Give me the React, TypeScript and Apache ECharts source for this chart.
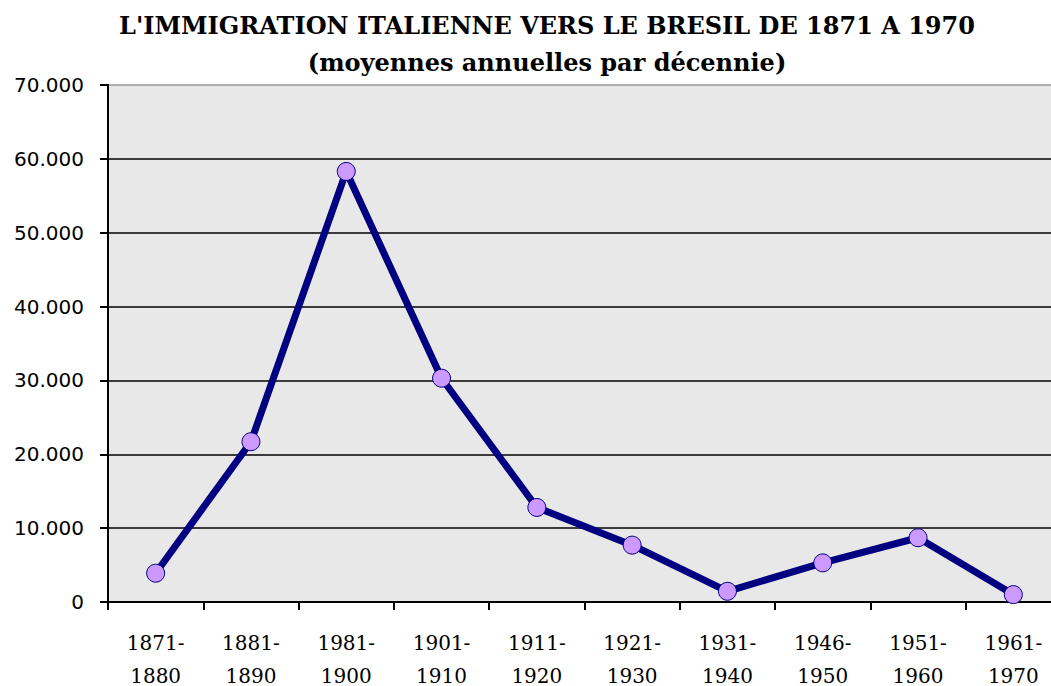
import React, { useEffect, useRef } from "react";
import * as echarts from "echarts";

const categories = [
  "1871-\n1880",
  "1881-\n1890",
  "1981-\n1900",
  "1901-\n1910",
  "1911-\n1920",
  "1921-\n1930",
  "1931-\n1940",
  "1946-\n1950",
  "1951-\n1960",
  "1961-\n1970",
];
const immigrants = [3900, 21700, 58300, 30300, 12800, 7700, 1450, 5300, 8700, 1000];
const titleText = "L'IMMIGRATION ITALIENNE VERS LE BRESIL DE 1871 A 1970";
const subtitleText = "(moyennes annuelles par décennie)";

export default function App() {
  const ref = useRef<HTMLDivElement>(null);
  useEffect(() => {
    document.body.style.margin = "0";
    const chart = echarts.init(ref.current!, null, { renderer: "svg" });
    chart.setOption({
      animation: false,
      backgroundColor: "#ffffff",
      title: [
        {
          text: titleText,
          left: 542,
          top: 8,
          textAlign: "center",
          textStyle: { fontFamily: "DejaVu Serif", fontWeight: "bold", fontSize: 24, color: "#000" },
        },
        {
          text: subtitleText,
          left: 542,
          top: 45,
          textAlign: "center",
          textStyle: { fontFamily: "DejaVu Serif", fontWeight: "bold", fontSize: 24, color: "#000" },
        },
      ],
      grid: {
        left: 108,
        width: 953,
        top: 85,
        height: 517,
        show: true,
        backgroundColor: "#e8e8e8",
        borderWidth: 0,
        containLabel: false,
        outerBoundsMode: "none",
      },
      xAxis: {
        type: "category",
        data: categories,
        boundaryGap: true,
        axisLine: { show: true, lineStyle: { color: "#000", width: 2 } },
        axisTick: { show: true, length: 8, lineStyle: { color: "#000", width: 2 }, alignWithLabel: false },
        axisLabel: {
          fontFamily: "DejaVu Serif",
          fontSize: 20,
          color: "#000",
          lineHeight: 33,
          margin: 24,
          interval: 0,
        },
      },
      yAxis: {
        type: "value",
        min: 0,
        max: 70000,
        interval: 10000,
        axisLine: { show: true, lineStyle: { color: "#000", width: 2 } },
        axisTick: { show: true, length: 8, lineStyle: { color: "#000", width: 2 } },
        splitLine: {
          show: true,
          lineStyle: { color: ["#000", "#000", "#000", "#000", "#000", "#000", "#000", "#999"], width: 1.5 },
        },
        axisLabel: {
          fontFamily: "DejaVu Sans",
          fontSize: 20,
          color: "#000",
          margin: 24,
          formatter: (v: number) => (v === 0 ? "0" : (v / 1000).toFixed(0) + ".000"),
        },
      },
      series: [
        {
          type: "line",
          data: immigrants,
          symbol: "circle",
          symbolSize: 18,
          lineStyle: { color: "#000080", width: 7 },
          itemStyle: { color: "#cc99ff", borderColor: "#000080", borderWidth: 1 },
        },
      ],
    });
    return () => chart.dispose();
  }, []);
  return <div ref={ref} style={{ width: 1051, height: 686 }} />;
}
